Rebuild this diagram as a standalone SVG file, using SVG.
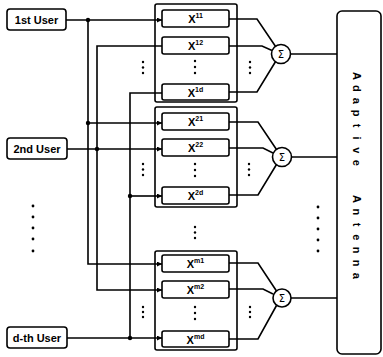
<svg xmlns="http://www.w3.org/2000/svg" width="383" height="357" viewBox="0 0 383 357">
<style>
.box{fill:#fff;stroke:#000;stroke-width:1.6}
.grp{fill:none;stroke:#000;stroke-width:1.6}
.ln{fill:none;stroke:#000;stroke-width:1.6}
.lbl{font-family:"Liberation Sans",Arial,sans-serif;font-weight:bold;font-size:11px;fill:#000}
.x{font-family:"Liberation Sans",Arial,sans-serif;font-weight:bold;font-size:11px;fill:#000;text-anchor:middle}
.sup{font-size:7px;font-weight:bold}
.sig{font-family:"DejaVu Sans",sans-serif;font-size:10px;fill:#000;text-anchor:middle}
.dot{fill:#000}
</style>
<defs>
<marker id="arr" viewBox="0 0 6 6" refX="6" refY="3" markerWidth="6" markerHeight="5" orient="auto" markerUnits="userSpaceOnUse"><path d="M0,0 L6,3 L0,6 z" fill="#000"/></marker>
</defs>
<rect width="383" height="357" fill="#fff"/>

<g id="connectors">
<path class="ln" d="M66,20 H162" marker-end="url(#arr)"/>
<path class="ln" d="M88,20 V264 H162" marker-end="url(#arr)"/>
<path class="ln" d="M88,123 H162" marker-end="url(#arr)"/>
<circle class="dot" cx="88" cy="20" r="2.2"/>
<circle class="dot" cx="88" cy="123" r="2.2"/>
<path class="ln" d="M67,149 H162" marker-end="url(#arr)"/>
<path class="ln" d="M162,46 H97 V290 H162" marker-end="url(#arr)"/>
<circle class="dot" cx="97" cy="149" r="2.2"/>
<path class="ln" d="M67,338 H162" marker-end="url(#arr)"/>
<path class="ln" d="M162,93 H130 V338"/>
<path class="ln" d="M130,196 H162" marker-end="url(#arr)"/>
<circle class="dot" cx="130" cy="196" r="2.2"/>
<circle class="dot" cx="130" cy="338" r="2.2"/>
<path class="ln" d="M229,19 H257 L275.6,46.5"/>
<path class="ln" d="M229,46 H262 L272,50.5"/>
<path class="ln" d="M229,92 H257 L275.6,61.5"/>
<path class="ln" d="M290.5,54 H337"/>
<path class="ln" d="M229,122 H258 L276.5,149.5"/>
<path class="ln" d="M229,148 H263 L273,153"/>
<path class="ln" d="M229,195 H258 L276.5,164.5"/>
<path class="ln" d="M291.5,157 H337"/>
<path class="ln" d="M229,263 H258 L276.5,291"/>
<path class="ln" d="M229,289 H263 L273,294"/>
<path class="ln" d="M229,339 H258 L276.5,305.5"/>
<path class="ln" d="M291,298 H337"/>
</g>

<g id="user1"><rect class="box" x="7" y="9" width="59" height="21" rx="3"/><text class="lbl" x="36.5" y="23.5" text-anchor="middle">1st User</text></g>
<g id="user2"><rect class="box" x="7" y="138" width="60" height="21" rx="3"/><text class="lbl" x="37" y="152.5" text-anchor="middle">2nd User</text></g>
<g id="userd"><rect class="box" x="7" y="327" width="60" height="21" rx="3"/><text class="lbl" x="37" y="341.5" text-anchor="middle">d-th User</text></g>

<g id="users-dots" class="dot">
<circle cx="33" cy="206" r="1.4"/><circle cx="33" cy="217" r="1.4"/><circle cx="33" cy="228" r="1.4"/><circle cx="33" cy="239" r="1.4"/><circle cx="33" cy="251" r="1.4"/>
</g>

<g id="group1">
<rect class="grp" x="155" y="4" width="82" height="98" rx="2"/>
<g id="x11"><rect class="box" x="162" y="10" width="67" height="17" rx="2"/><text class="x" x="195.5" y="23">X<tspan class="sup" dy="-5">11</tspan></text></g>
<g id="x12"><rect class="box" x="162" y="37" width="67" height="17" rx="2"/><text class="x" x="195.5" y="50">X<tspan class="sup" dy="-5">12</tspan></text></g>
<g id="x1d"><rect class="box" x="162" y="84" width="67" height="16" rx="2"/><text class="x" x="195.5" y="96.5">X<tspan class="sup" dy="-5">1d</tspan></text></g>
<g class="dot"><circle cx="143" cy="62" r="1.2"/><circle cx="143" cy="67.5" r="1.2"/><circle cx="143" cy="73" r="1.2"/>
<circle cx="195" cy="61" r="1.2"/><circle cx="195" cy="67" r="1.2"/><circle cx="195" cy="73" r="1.2"/>
<circle cx="250" cy="62" r="1.2"/><circle cx="250" cy="67.5" r="1.2"/><circle cx="250" cy="73" r="1.2"/></g>
</g>
<g id="sum1"><circle class="box" cx="281" cy="54" r="9.5"/><text class="sig" x="281" y="57.5">Σ</text></g>

<g id="group2">
<rect class="grp" x="155" y="107" width="82" height="100" rx="2"/>
<g id="x21"><rect class="box" x="162" y="113" width="67" height="17" rx="2"/><text class="x" x="195.5" y="126">X<tspan class="sup" dy="-5">21</tspan></text></g>
<g id="x22"><rect class="box" x="162" y="139" width="67" height="17" rx="2"/><text class="x" x="195.5" y="152">X<tspan class="sup" dy="-5">22</tspan></text></g>
<g id="x2d"><rect class="box" x="162" y="187" width="67" height="17" rx="2"/><text class="x" x="195.5" y="200">X<tspan class="sup" dy="-5">2d</tspan></text></g>
<g class="dot"><circle cx="143" cy="164" r="1.2"/><circle cx="143" cy="169.5" r="1.2"/><circle cx="143" cy="175" r="1.2"/>
<circle cx="195" cy="164" r="1.2"/><circle cx="195" cy="170" r="1.2"/><circle cx="195" cy="176" r="1.2"/>
<circle cx="249" cy="164" r="1.2"/><circle cx="249" cy="169.5" r="1.2"/><circle cx="249" cy="175" r="1.2"/></g>
</g>
<g id="sum2"><circle class="box" cx="282" cy="157" r="9.5"/><text class="sig" x="282" y="160.5">Σ</text></g>

<g id="between-dots" class="dot"><circle cx="195" cy="227" r="1.2"/><circle cx="195" cy="232.5" r="1.2"/><circle cx="195" cy="238" r="1.2"/></g>

<g id="groupm">
<rect class="grp" x="155" y="251" width="82" height="99" rx="2"/>
<g id="xm1"><rect class="box" x="162" y="255" width="67" height="17" rx="2"/><text class="x" x="195.5" y="268">X<tspan class="sup" dy="-5">m1</tspan></text></g>
<g id="xm2"><rect class="box" x="162" y="281" width="67" height="17" rx="2"/><text class="x" x="195.5" y="294">X<tspan class="sup" dy="-5">m2</tspan></text></g>
<g id="xmd"><rect class="box" x="162" y="331" width="67" height="16" rx="2"/><text class="x" x="195.5" y="343.5">X<tspan class="sup" dy="-5">md</tspan></text></g>
<g class="dot"><circle cx="143" cy="307" r="1.2"/><circle cx="143" cy="312" r="1.2"/><circle cx="143" cy="317" r="1.2"/>
<circle cx="195" cy="307" r="1.2"/><circle cx="195" cy="313" r="1.2"/><circle cx="195" cy="319" r="1.2"/>
<circle cx="250" cy="307" r="1.2"/><circle cx="250" cy="312" r="1.2"/><circle cx="250" cy="317" r="1.2"/></g>
</g>
<g id="summ"><circle class="box" cx="282" cy="298" r="9"/><text class="sig" x="282" y="301.5">Σ</text></g>

<g id="sum-dots" class="dot">
<circle cx="318" cy="207" r="1.4"/><circle cx="318" cy="218" r="1.4"/><circle cx="318" cy="229" r="1.4"/><circle cx="318" cy="240" r="1.4"/><circle cx="318" cy="251" r="1.4"/>
</g>

<g id="antenna">
<rect class="box" x="337" y="11" width="44" height="343" rx="5"/>
<text class="lbl" transform="translate(353,0) rotate(90)" y="0" text-anchor="middle" x="76 88.4 100.8 113.2 125.6 138 150.4 162.8 199 211.8 224.6 237.4 250.2 263 275.8">AdaptiveAntenna</text>
</g>
</svg>
